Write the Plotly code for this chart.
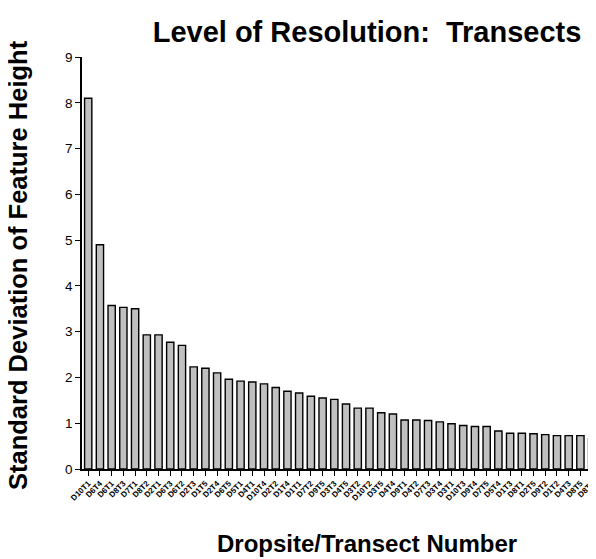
import plotly.graph_objects as go

# transect labels, sorted by std dev (as in the source chart)
transects = ["D10T1", "D6T4", "D6T1", "D8T3", "D7T1", "D8T2", "D2T1", "D6T3", "D6T2",
             "D2T3", "D1T5", "D2T4", "D6T5", "D5T1", "D4T1", "D10T4", "D2T2", "D1T4",
             "D1T1", "D7T2", "D9T5", "D3T3", "D4T5", "D3T2", "D10T2", "D3T5", "D4T4",
             "D9T1", "D4T2", "D7T3", "D3T4", "D3T1", "D10T3", "D9T4", "D7T5", "D5T4",
             "D1T3", "D8T1", "D2T5", "D9T2", "D1T2", "D4T3", "D8T5", "D8T4"]
std_dev = [8.1, 4.9, 3.57, 3.53, 3.5, 2.93, 2.93, 2.77, 2.7,
           2.23, 2.2, 2.1, 1.96, 1.92, 1.9, 1.86, 1.78, 1.7,
           1.66, 1.59, 1.55, 1.52, 1.42, 1.33, 1.33, 1.23, 1.2,
           1.07, 1.07, 1.06, 1.03, 0.99, 0.95, 0.93, 0.93, 0.83,
           0.78, 0.78, 0.77, 0.75, 0.73, 0.73, 0.73, 0.66]
y_ticks = [0, 1, 2, 3, 4, 5, 6, 7, 8, 9]

fig = go.Figure()
fig.add_trace(go.Bar(
    x=list(range(len(transects))),
    y=std_dev,
    width=0.62,
    marker=dict(color="#c0c0c0", line=dict(color="black", width=1.4)),
))

# the page body has an 8px margin, so everything is placed 8px up/left
fig.update_layout(
    width=596,
    height=559,
    paper_bgcolor="white",
    plot_bgcolor="white",
    showlegend=False,
    margin=dict(l=74, r=8, t=49, b=98),
    font=dict(family="Liberation Sans, Arial, sans-serif", color="black"),
    title=dict(text="<b>Level of Resolution:&nbsp; Transects</b>",
               x=359 / 596, xref="container", xanchor="center",
               y=1 - 24 / 559, yref="container", yanchor="middle",
               font=dict(size=29)),
)

fig.update_xaxes(
    tickmode="array",
    tickvals=list(range(len(transects))),
    ticktext=["<b>%s</b>" % t for t in transects],
    tickangle=-45,
    tickfont=dict(size=8),
    ticks="outside", ticklen=5, tickcolor="black", tickwidth=1.2,
    showline=True, linecolor="black", linewidth=1.5,
    showgrid=False, zeroline=False,
    range=[-0.53, 43.33],
)

fig.update_yaxes(
    range=[0, 9],
    tickvals=y_ticks,
    tickfont=dict(size=13.5),
    ticks="outside", ticklen=5, tickcolor="black", tickwidth=1.2,
    showline=True, linecolor="black", linewidth=1.5,
    showgrid=False, zeroline=False,
)

# axis titles as annotations so they land where the source has them
fig.add_annotation(
    text="<b>Dropsite/Transect Number</b>",
    xref="paper", yref="paper",
    x=(359 - 74) / 514, y=(461 - 535) / 412,
    xanchor="center", yanchor="middle",
    showarrow=False, font=dict(size=24),
)
fig.add_annotation(
    text="<b>Standard Deviation of Feature Height</b>",
    xref="paper", yref="paper",
    x=(10 - 74) / 514, y=(461 - 257) / 412,
    xanchor="center", yanchor="middle", textangle=-90,
    showarrow=False, font=dict(size=25.5),
)

fig.write_html("out.html")
